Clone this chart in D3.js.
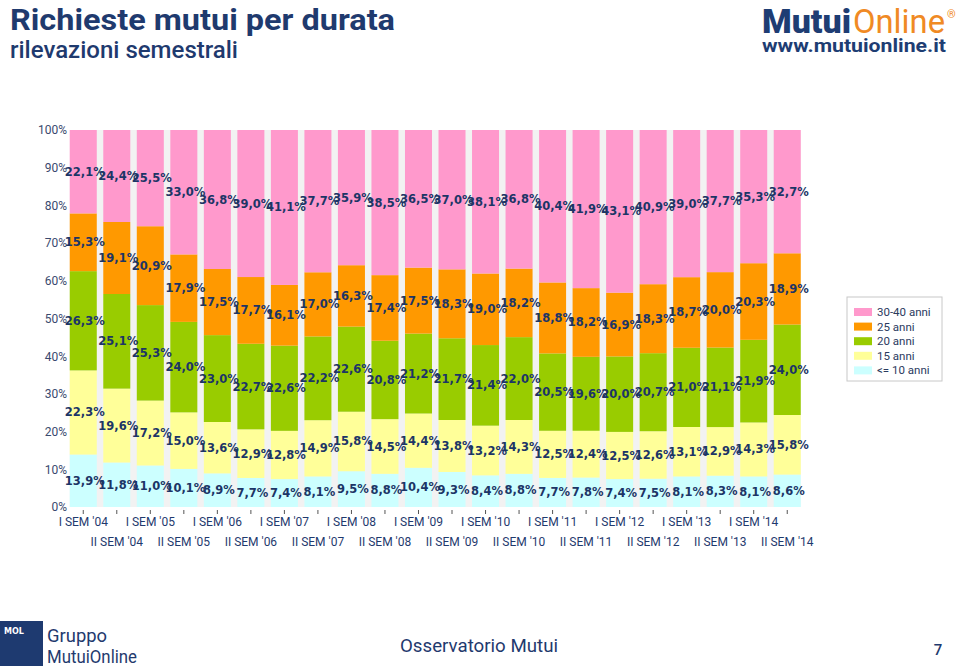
<!DOCTYPE html>
<html>
<head>
<meta charset="utf-8">
<script src="https://cdn.jsdelivr.net/npm/d3@7"></script>
<style>
  html, body { margin: 0; padding: 0; background: #ffffff; }
  svg { display: block; }
</style>
</head>
<body>
<svg id="chart" width="960" height="667"></svg>
<script>
const categories = [
  "I SEM '04","II SEM '04","I SEM '05","II SEM '05","I SEM '06","II SEM '06",
  "I SEM '07","II SEM '07","I SEM '08","II SEM '08","I SEM '09","II SEM '09",
  "I SEM '10","II SEM '10","I SEM '11","II SEM '11","I SEM '12","II SEM '12",
  "I SEM '13","II SEM '13","I SEM '14","II SEM '14"
];
const seriesNames = ["<= 10 anni","15 anni","20 anni","25 anni","30-40 anni"];
const upTo10 = [13.9,11.8,11.0,10.1,8.9,7.7,7.4,8.1,9.5,8.8,10.4,9.3,8.4,8.8,7.7,7.8,7.4,7.5,8.1,8.3,8.1,8.6];
const anni15 = [22.3,19.6,17.2,15.0,13.6,12.9,12.8,14.9,15.8,14.5,14.4,13.8,13.2,14.3,12.5,12.4,12.5,12.6,13.1,12.9,14.3,15.8];
const anni20 = [26.3,25.1,25.3,24.0,23.0,22.7,22.6,22.2,22.6,20.8,21.2,21.7,21.4,22.0,20.5,19.6,20.0,20.7,21.0,21.1,21.9,24.0];
const anni25 = [15.3,19.1,20.9,17.9,17.5,17.7,16.1,17.0,16.3,17.4,17.5,18.3,19.0,18.2,18.8,18.2,16.9,18.3,18.7,20.0,20.3,18.9];
const anni3040 = [22.1,24.4,25.5,33.0,36.8,39.0,41.1,37.7,35.9,38.5,36.5,37.0,38.1,36.8,40.4,41.9,43.1,40.9,39.0,37.7,35.3,32.7];
const yTicks = [0,10,20,30,40,50,60,70,80,90,100];
const colors = ["#ccffff","#ffff99","#99cc00","#ff9900","#ff99cc"];

const seriesValues = [upTo10, anni15, anni20, anni25, anni3040];
const rows = categories.map((c, i) => {
  const r = { cat: c };
  seriesNames.forEach((s, k) => r[s] = seriesValues[k][i]);
  return r;
});

const svg = d3.select("#chart");
const navy = "#1f3a6e";

// Titles
svg.append("text").attr("x", 10).attr("y", 30)
  .attr("font-family", "Roboto, 'Liberation Sans', sans-serif")
  .attr("font-size", 29).attr("font-weight", 700).attr("fill", navy)
  .attr("textLength", 385).attr("lengthAdjust", "spacingAndGlyphs")
  .text("Richieste mutui per durata");
svg.append("text").attr("x", 10).attr("y", 58)
  .attr("font-family", "Roboto, 'Liberation Sans', sans-serif")
  .attr("font-size", 23).attr("font-weight", 500).attr("fill", navy)
  .attr("textLength", 228).attr("lengthAdjust", "spacingAndGlyphs")
  .text("rilevazioni semestrali");

// Top-right logo
svg.append("text").attr("x", 762).attr("y", 33)
  .attr("font-family", "Roboto, 'Liberation Sans', sans-serif").attr("font-size", 34)
  .attr("font-weight", 900).attr("fill", "#1e3d73")
  .attr("textLength", 89).attr("lengthAdjust", "spacingAndGlyphs").text("Mutui");
svg.append("text").attr("x", 853).attr("y", 33)
  .attr("font-family", "Roboto, 'Liberation Sans', sans-serif").attr("font-size", 34)
  .attr("font-weight", 400).attr("fill", "#f08a24")
  .attr("textLength", 92).attr("lengthAdjust", "spacingAndGlyphs").text("Online");
svg.append("text").attr("x", 947).attr("y", 18)
  .attr("font-family", "Roboto, sans-serif").attr("font-size", 11).attr("fill", "#f08a24").text("®");
svg.append("text").attr("x", 762).attr("y", 52)
  .attr("font-family", "Roboto, 'Liberation Sans', sans-serif")
  .attr("font-size", 19).attr("font-weight", 700).attr("fill", "#1e3d73")
  .attr("textLength", 184).attr("lengthAdjust", "spacingAndGlyphs")
  .text("www.mutuionline.it");

// Scales
const x = d3.scaleBand().domain(categories).range([66.5, 804])
  .paddingInner(0.194).paddingOuter(0.097);
const y = d3.scaleLinear().domain([0, 1]).range([507, 130]);

const stack = d3.stack().keys(seriesNames).offset(d3.stackOffsetExpand);
const stacked = stack(rows);

// gray background between bars
svg.append("rect")
  .attr("x", x(categories[0])).attr("y", y(1))
  .attr("width", x(categories[categories.length - 1]) + x.bandwidth() - x(categories[0]))
  .attr("height", y(0) - y(1))
  .attr("fill", "#f2f2f2");

// Bars
const g = svg.append("g");
stacked.forEach((layer, k) => {
  g.selectAll(null).data(layer).enter().append("rect")
    .attr("x", d => x(d.data.cat))
    .attr("y", d => y(d[1]))
    .attr("width", x.bandwidth())
    .attr("height", d => y(d[0]) - y(d[1]))
    .attr("fill", colors[k]);
});

// Y axis labels
const yAxis = d3.axisLeft(d3.scaleLinear().domain([0, 100]).range([507, 130]))
  .tickValues(yTicks).tickSize(0).tickPadding(0).tickFormat(d => d + "%");
const ya = svg.append("g").attr("transform", "translate(67,0)").call(yAxis);
ya.select(".domain").remove();
ya.selectAll("text").attr("font-family", "Roboto, sans-serif").attr("font-size", 12)
  .attr("fill", "#3a4a6e");

// X axis
const xAxis = d3.axisBottom(x).tickSize(4).tickPadding(0);
const xa = svg.append("g").attr("transform", "translate(0,510)").call(xAxis);
xa.select(".domain").remove();
xa.selectAll(".tick line").attr("stroke", "#555").attr("stroke-width", 1);
xa.selectAll(".tick text")
  .attr("font-family", "Roboto, sans-serif").attr("font-size", 12)
  .attr("fill", navy)
  .attr("dy", null)
  .attr("y", (d, i) => i % 2 === 0 ? 16 : 36);

// Value labels
const fmt = v => v.toFixed(1).replace(".", ",") + "%";
const lbl = svg.append("g");
stacked.forEach((layer, k) => {
  lbl.selectAll(null).data(layer).enter().append("text")
    .attr("x", d => x(d.data.cat) + x.bandwidth() / 2 + 1.5)
    .attr("y", d => y((d[0] + d[1]) / 2))
    .attr("dy", "0.35em")
    .attr("text-anchor", "middle")
    .attr("font-family", "'DejaVu Sans', Verdana, sans-serif")
    .attr("font-size", 11.5).attr("font-weight", 700)
    .attr("fill", "#1c3566")
    .text(d => fmt(seriesValues[k][categories.indexOf(d.data.cat)]));
});

// Legend
const lg = svg.append("g").attr("transform", "translate(847,297)");
lg.append("rect").attr("x", 0).attr("y", 0).attr("width", 95).attr("height", 84)
  .attr("fill", "#fff").attr("stroke", "#c8c8c8");
const legendOrder = seriesNames.slice().reverse();
const legendColors = colors.slice().reverse();
legendOrder.forEach((name, i) => {
  const yy = 15 + i * 14.6;
  lg.append("rect").attr("x", 7).attr("y", yy - 4).attr("width", 18).attr("height", 8)
    .attr("fill", legendColors[i]);
  lg.append("text").attr("x", 30).attr("y", yy).attr("dy", "0.35em")
    .attr("font-family", "Roboto, sans-serif").attr("font-size", 11.5)
    .attr("fill", "#2a3a5e").text(name);
});

// Footer
svg.append("rect").attr("x", 0).attr("y", 621).attr("width", 43).attr("height", 45).attr("fill", "#1e3a70");
svg.append("text").attr("x", 4).attr("y", 634)
  .attr("font-family", "'DejaVu Sans', sans-serif").attr("font-size", 8).attr("font-weight", 700)
  .attr("fill", "#fff").text("MOL");
svg.append("rect").attr("x", 43).attr("y", 621).attr("width", 2).attr("height", 45).attr("fill", "#fff");
svg.append("text").attr("x", 47).attr("y", 642)
  .attr("font-family", "Roboto, sans-serif").attr("font-size", 18).attr("fill", navy)
  .attr("textLength", 60).attr("lengthAdjust", "spacingAndGlyphs").text("Gruppo");
svg.append("text").attr("x", 47).attr("y", 663)
  .attr("font-family", "Roboto, sans-serif").attr("font-size", 18).attr("fill", navy)
  .attr("textLength", 90).attr("lengthAdjust", "spacingAndGlyphs").text("MutuiOnline");
svg.append("text").attr("x", 479).attr("y", 652).attr("text-anchor", "middle")
  .attr("font-family", "Roboto, sans-serif").attr("font-size", 18).attr("fill", navy)
  .attr("textLength", 158).attr("lengthAdjust", "spacingAndGlyphs").text("Osservatorio Mutui");
svg.append("text").attr("x", 938).attr("y", 655).attr("text-anchor", "middle")
  .attr("font-family", "Roboto, sans-serif").attr("font-size", 15).attr("font-weight", 500)
  .attr("fill", navy).text("7");
</script>
</body>
</html>
